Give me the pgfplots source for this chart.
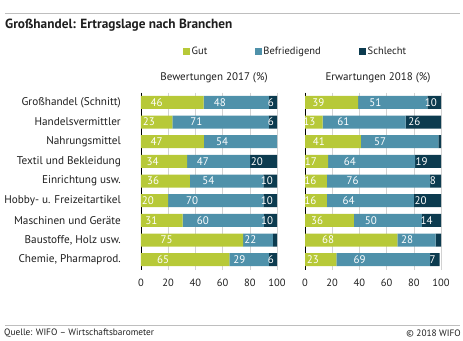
\documentclass[border=0pt]{standalone}
\usepackage{fontspec}
\setmainfont{PT Sans}
\usepackage{pgfplots}
\pgfplotsset{compat=1.18}
\definecolor{cgut}{RGB}{183,201,56}
\definecolor{cbef}{RGB}{79,145,170}
\definecolor{csch}{RGB}{12,59,79}
\definecolor{ctext}{RGB}{30,30,30}
\definecolor{cline}{RGB}{190,190,190}
\pgfplotsset{
 mybar/.style={
  scale only axis, width=136pt, height=177pt,
  xbar stacked, bar width=13pt,
  xmin=0, xmax=100, ymin=-0.5, ymax=8.5, y dir=reverse,
  xtick={0,20,...,100}, ytick={0,...,8},
  major tick length=0pt,
  xmajorgrids, grid style={color=gray!35, line width=0.6pt},
  axis lines*=left, axis line style={-, black, line width=0.8pt},
  x axis line style={draw=none},
  xticklabel style={inner sep=0pt, anchor=center, yshift=-13pt, font=\fontsize{10.5}{12}\selectfont, text=ctext},
  yticklabel style={inner sep=0pt, anchor=east, xshift=-20pt, font=\fontsize{11.2}{13}\selectfont, text=ctext},
  /pgf/number format/assume math mode=true,
  point meta=explicit symbolic,
  visualization depends on=rawx \as \rawx,
  nodes near coords={\ifdim\rawx pt<4.5pt\else\pgfplotspointmeta\fi},
  every node near coord/.append style={anchor=center, xshift={-0.34pt*\rawx}, text=white, font=\fontsize{11}{12}\selectfont},
  title style={at={(0.5,1)}, anchor=center, yshift=8.5pt, xshift=5pt, font=\fontsize{11}{12}\selectfont, text=ctext},
 }
}
\begin{document}
\begin{tikzpicture}[x=1pt,y=1pt]
\path[use as bounding box] (0,0) rectangle (463,340);
\draw[cline, line width=1pt] (5,326.7) -- (460,326.7);
\draw[cline, line width=1pt] (5,15) -- (460,15);
\node[anchor=west, inner sep=0pt, font=\fontsize{13.3}{15}\selectfont\bfseries, text=ctext] at (5,315) {Großhandel: Ertragslage nach Branchen};
\node[anchor=west, inner sep=0pt, font=\fontsize{9.3}{11}\selectfont, text=ctext] at (4,7) {Quelle: WIFO – Wirtschaftsbarometer};
\node[anchor=east, inner sep=0pt, font=\fontsize{9.3}{11}\selectfont, text=ctext] at (461,7) {© 2018 WIFO};

\begin{axis}[mybar, at={(141pt,70.5pt)}, anchor=south west,
  title={Bewertungen 2017 (\%)},
  yticklabels={Großhandel (Schnitt),Handelsvermittler,Nahrungsmittel,Textil und Bekleidung,Einrichtung usw.,Hobby- u. Freizeitartikel,Maschinen und Geräte,{Baustoffe, Holz usw.},{Chemie, Pharmaprod.}},
  legend columns=3,
  legend style={at={(0.309,1.229)}, anchor=west, draw=none, fill=none, inner sep=0pt,
    font=\fontsize{10.5}{12}\selectfont, text=ctext,
    nodes={inner sep=1.5pt},
    /tikz/column 2/.style={column sep=46pt},
    /tikz/column 4/.style={column sep=37pt}},
  legend image code/.code={\fill[#1] (0pt,-3.5pt) rectangle (7pt,3.5pt);},
]
\addplot[fill=cgut, draw=none] coordinates {(46,0)[46] (23,1)[23] (46.3,2)[47] (34,3)[34] (36,4)[36] (20,5)[20] (30.6,6)[31] (75,7)[75] (65,8)[65]};
\addplot[fill=cbef, draw=none] coordinates {(48,0)[48] (71,1)[71] (53.7,2)[54] (46.2,3)[47] (54,4)[54] (70,5)[70] (59.8,6)[60] (22,7)[22] (29,8)[29]};
\addplot[fill=csch, draw=none] coordinates {(6,0)[6] (6,1)[6] (0,2)[0] (19.8,3)[20] (10,4)[10] (10,5)[10] (9.6,6)[10] (3,7)[3] (6,8)[6]};
\legend{Gut,Befriedigend,Schlecht}
\end{axis}

\begin{axis}[mybar, at={(305pt,70.5pt)}, anchor=south west,
  title={Erwartungen 2018 (\%)},
  yticklabels={},
]
\addplot[fill=cgut, draw=none] coordinates {(39,0)[39] (13,1)[13] (41,2)[41] (17,3)[17] (16,4)[16] (16,5)[16] (36,6)[36] (68,7)[68] (23,8)[23]};
\addplot[fill=cbef, draw=none] coordinates {(51,0)[51] (61,1)[61] (57,2)[57] (64,3)[64] (76,4)[76] (64,5)[64] (50,6)[50] (28,7)[28] (69,8)[69]};
\addplot[fill=csch, draw=none] coordinates {(10,0)[10] (26,1)[26] (2,2)[2] (19,3)[19] (8,4)[8] (20,5)[20] (14,6)[14] (4,7)[4] (7,8)[7]};
\end{axis}
\end{tikzpicture}
\end{document}
